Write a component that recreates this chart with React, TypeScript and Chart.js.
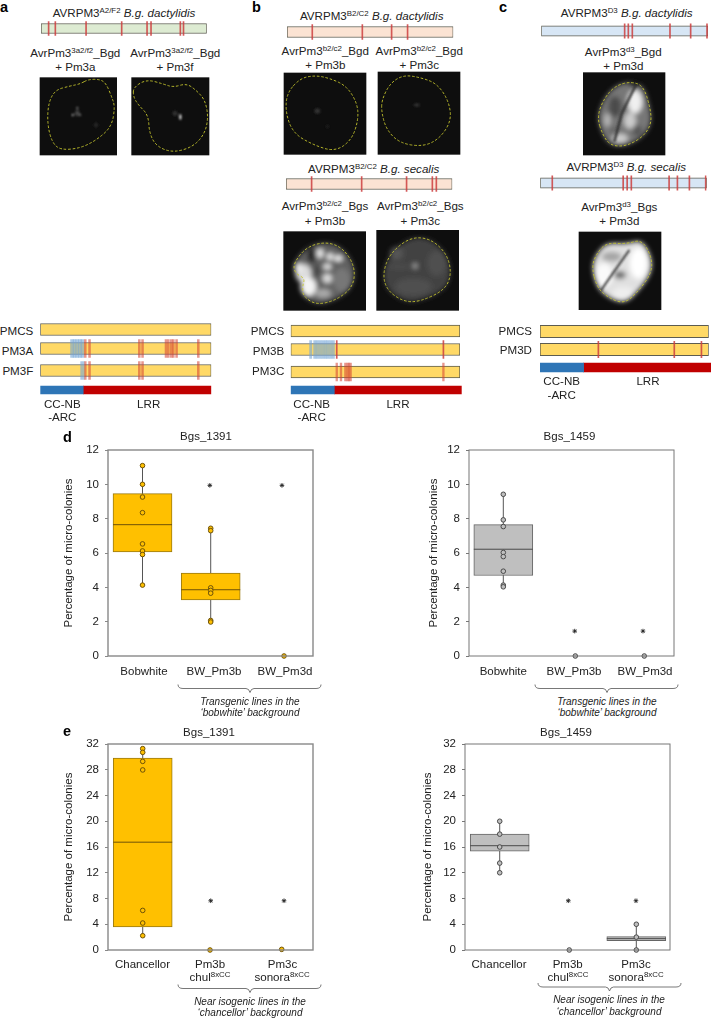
import React, { useEffect, useRef } from "react";
import { Chart, registerables } from "chart.js";

Chart.register(...registerables);

const FONT = "'Liberation Sans', Arial, sans-serif";

// ---------- box plot data ----------
const yTitle = "Percentage of micro-colonies";

const dLabels = ["Bobwhite", "BW_Pm3b", "BW_Pm3d"];
const eLabels = ["Chancellor", "Pm3b", "Pm3c"];

const d1391Points = [
  [11.09, 10.0, 9.26, 8.35, 6.53, 6.12, 5.91, 4.13],
  [7.44, 7.3, 3.97, 3.82, 3.66, 2.07, 1.98],
  [0],
];
const d1391Boxes = [[6.07, 7.65, 9.46], [3.26, 3.86, 4.83], null];
const d1391Stars = [9.94, 9.94];

const d1459Points = [
  [9.42, 7.93, 7.54, 6.03, 5.79, 4.94, 4.13, 4.03],
  [0],
  [0],
];
const d1459Boxes = [[4.69, 6.22, 7.65], null, null];
const d1459Stars = [1.45, 1.45];

const e1391Points = [
  [31.28, 30.7, 29.3, 27.97, 6.15, 4.19, 2.22],
  [0],
  [0.1],
];
const e1391Boxes = [[3.57, 16.75, 29.8], null, null];
const e1391Stars = [7.65, 7.65];

const e1459Points = [
  [20.0, 18.0, 16.0, 13.5, 12.0],
  [0],
  [4.0, 2.0, 0],
];
const e1459Boxes = [[15.36, 16.2, 18.0], null, [1.45, 1.76, 2.07]];
const e1459Stars = [7.65, 7.65];

// ---------- gene track data (position along the protein, %) ----------
const aTopMarks = [4.6, 8.65, 27.2, 48.7, 64, 66.4, 84.1, 86];
const bTop1Marks = [15.2, 45.3, 62.9, 72.5];
const bTop2Marks = [15.4, 45.5, 72.5, 88, 90.4];
const cTop1Marks = [50, 52.2, 54.6, 77.2, 89.6, 99.4];
const cTop2Marks = [7.2, 49.8, 52.2, 54.7, 77.4, 82.4, 89.6, 99.4];

const pm3aBlue = [18.5, 20, 21.6, 23.2, 24.6];
const pm3aRed = [26.3, 28.8, 57.9, 59.8, 73.5, 74.9, 76.6, 77.8, 79.7, 92.4];
const pm3fBlue = [24.6];
const pm3fRed = [26.3, 28.8, 57.9, 59.8, 92.4];
const pm3bBlue = [11.8, 14.2, 15.7, 17.3, 18.9, 20.5, 22, 23.6, 25.2];
const pm3bRed = [27.2, 90.2];
const pm3cRed = [27.2, 29.7, 32.3, 33.5, 34.4, 35.4, 90.2];
const pm3dRed = [34.6, 79.6, 95.7];

type Seg = { from: number; to: number; color: string; border?: string };
type MarkGroup = { at: number[]; color: string; w: number };

const RED_THIN = "rgba(205,62,62,0.85)";
const RED_SOFT = "rgba(214,64,48,0.55)";
const BLUE_SOFT = "rgba(115,165,215,0.6)";

function Track({ x, y, w, h, segs, marks = [], over = 2 }: {
  x: number; y: number; w: number; h: number; segs: Seg[]; marks?: MarkGroup[]; over?: number;
}) {
  const ref = useRef<HTMLCanvasElement>(null);
  const left = Math.floor(x) - 2;
  const top = Math.floor(y) - over - 1;
  const cw = Math.ceil(x + w) + 2 - left;
  const ch = Math.ceil(y + h) + over + 1 - top;
  useEffect(() => {
    const datasets: any[] = [];
    segs.forEach((s) =>
      datasets.push({
        data: [[s.from, s.to]], backgroundColor: s.color,
        borderColor: s.border || s.color, borderWidth: s.border ? 1 : 0,
        borderSkipped: false, barThickness: h, grouped: false, order: 10,
      })
    );
    marks.forEach((g) =>
      g.at.forEach((v) =>
        datasets.push({
          data: [[v - g.w / 2, v + g.w / 2]], backgroundColor: g.color, borderWidth: 0,
          barThickness: h + 2 * over, grouped: false, order: 1,
        })
      )
    );
    const chart = new Chart(ref.current!, {
      type: "bar",
      data: { labels: ["gene"], datasets },
      options: {
        indexAxis: "y", animation: false, responsive: false,
        layout: { padding: { left: x - left, right: left + cw - x - w, top: 0, bottom: 0 } },
        plugins: { legend: { display: false }, tooltip: { enabled: false } },
        scales: {
          x: { type: "linear", min: 0, max: 100, display: false },
          y: { type: "category", display: false },
        },
      },
    } as any);
    return () => chart.destroy();
  }, []);
  return <canvas ref={ref} width={cw} height={ch} style={{ position: "absolute", left, top, width: cw, height: ch }} />;
}

const frame = {
  id: "frame",
  afterDatasetsDraw(chart: any, _a: any, o: any) {
    const { left, right, top, bottom } = chart.chartArea;
    const c = chart.ctx;
    c.save();
    c.strokeStyle = o.color;
    c.lineWidth = o.width;
    c.strokeRect(left, top, right - left, bottom - top);
    c.restore();
  },
};

function BoxChart({ left, top, width, height, plotLeft, plotRight, plotBottom, title, titlePad, yMax, yStep,
  boxes, points, stars, boxX, pointX, starX, labelX, labels, color, edge, dotEdge, frameColor, frameWidth, labelPad }: any) {
  const ref = useRef<HTMLCanvasElement>(null);
  useEffect(() => {
    const plotW = plotRight - plotLeft;
    const half = (29.5 * 3) / plotW;
    const datasets: any[] = [];
    points.forEach((vals: number[], i: number) => {
      if (vals.length > 1) {
        datasets.push({
          type: "scatter", showLine: true, pointRadius: 0, borderColor: "#555", borderWidth: 1, order: 4, clip: false,
          data: [{ x: pointX[i], y: Math.min(...vals) }, { x: pointX[i], y: Math.max(...vals) }],
        });
      }
      const b = boxes[i];
      if (b) {
        datasets.push({
          type: "bar", data: [{ x: boxX[i], y: [b[0], b[2]] }], backgroundColor: color, borderColor: edge,
          borderWidth: 1, borderSkipped: false, barThickness: 59, grouped: false, order: 3,
        });
        datasets.push({
          type: "scatter", showLine: true, pointRadius: 0, borderColor: dotEdge, borderWidth: 1, order: 2,
          data: [{ x: boxX[i] - half, y: b[1] }, { x: boxX[i] + half, y: b[1] }],
        });
      }
      datasets.push({
        type: "scatter", order: 1, clip: false,
        data: vals.map((v) => ({ x: pointX[i], y: v })),
        pointRadius: 2.3, pointBackgroundColor: color, pointBorderColor: dotEdge, pointBorderWidth: 1,
      });
    });
    datasets.push({
      type: "scatter", order: 0, clip: false,
      data: stars.map((v: number, i: number) => ({ x: starX[i], y: v })),
      pointStyle: "star", pointRadius: 2.3, pointBorderColor: "#222", pointBorderWidth: 0.9, pointBackgroundColor: "#222",
    });
    const chart = new Chart(ref.current!, {
      type: "bar",
      data: { datasets },
      plugins: [frame],
      options: {
        animation: false, responsive: false,
        layout: { padding: 0 },
        plugins: {
          legend: { display: false }, tooltip: { enabled: false },
          frame: { color: frameColor, width: frameWidth },
          title: {
            display: true, text: title, color: "#222",
            font: { family: FONT, size: 11.5, weight: "normal", lineHeight: 14 / 11.5 },
            padding: { top: 0, bottom: titlePad },
          },
        },
        scales: {
          x: {
            type: "linear", min: 0, max: 3, offset: false,
            grid: { display: false, offset: false, drawTicks: false }, border: { display: false },
            afterFit: (s: any) => { s.height = height - (plotBottom - top); },
            afterBuildTicks: (s: any) => { s.ticks = labelX.map((v: number) => ({ value: v })); },
            ticks: {
              autoSkip: false, maxRotation: 0, padding: labelPad, color: "#222",
              font: { family: FONT, size: 11.5 },
              callback: (_v: number, i: number) => labels[i],
            },
          },
          y: {
            type: "linear", min: 0, max: yMax,
            afterFit: (s: any) => { s.width = plotLeft - left; },
            grid: { drawOnChartArea: false, tickLength: 3, tickColor: frameColor, lineWidth: 1 },
            border: { display: false },
            ticks: { stepSize: yStep, padding: 6, color: "#222", font: { family: FONT, size: 11.5 } },
            title: {
              display: true, text: yTitle, color: "#222", padding: 0,
              font: { family: FONT, size: 11.5, lineHeight: 14 / 11.5 },
            },
          },
          // empty margin on the right, so that the title centres over the whole canvas
          margin: {
            type: "linear", position: "right", min: 0, max: 1,
            grid: { display: false }, border: { display: false }, ticks: { display: false },
            afterFit: (s: any) => { s.width = left + width - plotRight; },
          },
        },
      },
    } as any);
    return () => chart.destroy();
  }, []);
  return <canvas ref={ref} width={width} height={height} style={{ position: "absolute", left, top, width, height }} />;
}

// ---------- overlay text ----------
function T({ x, y, children, size = 11.6, bold, italic, align = "c" }: any) {
  const tx = align === "r" ? "-100%" : "-50%";
  return (
    <span style={{
      position: "absolute", left: x, top: y, transform: `translate(${tx},-50%)`, whiteSpace: "nowrap",
      fontFamily: FONT, fontSize: size, fontWeight: bold ? 700 : 400, fontStyle: italic ? "italic" : "normal",
      color: bold ? "#000" : "#222", lineHeight: 1,
    }}>{children}</span>
  );
}
const S = ({ children }: any) => (
  <sup style={{ fontSize: "0.68em", lineHeight: 0, verticalAlign: "0.48em" }}>{children}</sup>
);
const I = ({ children }: any) => <i>{children}</i>;

// ---------- micrographs, in zoomed-crop coordinates (3 units = 1 px) ----------
function smooth(p: number[][], ox: number, oy: number) {
  const q = p.map(([a, b]) => [ox + a / 3, oy + b / 3]);
  const mid = (a: number[], b: number[]) => [(a[0] + b[0]) / 2, (a[1] + b[1]) / 2];
  let d = "";
  q.forEach((pt, i) => {
    const m0 = mid(q[(i + q.length - 1) % q.length], pt);
    const m1 = mid(pt, q[(i + 1) % q.length]);
    if (i === 0) d += `M${m0[0]} ${m0[1]}`;
    d += `Q${pt[0]} ${pt[1]} ${m1[0]} ${m1[1]}`;
  });
  return d + "Z";
}

type Micro = {
  o: number[]; box: number[]; outline: number[][]; base?: string;
  blobs: (number | string)[][]; streak?: number[][]; streakW?: number;
};
const micros: Micro[] = [
  { o: [0, 0], box: [119, 232, 351, 466],
    outline: [[265,238],[300,238],[318,250],[335,290],[345,320],[335,380],[290,420],[240,445],[180,450],[155,425],[142,370],[145,310],[165,270],[210,258],[240,252]],
    blobs: [[232,340,7,9,"#444"],[218,345,2,4,"#eee"],[241,345,2,2,"#ccc"],[232,324,3,2,"#ccc"],[288,375,7,7,"#262626"]] },
  { o: [0, 0], box: [394, 232, 628, 466],
    outline: [[400,262],[440,238],[490,252],[520,262],[560,250],[590,272],[615,300],[625,350],[615,400],[580,440],[520,458],[470,440],[448,400],[445,345],[415,315],[400,290]],
    blobs: [[525,340,7,8,"#333"],[541,351,3,9,"#fff"]] },
  { o: [240, 0], box: [131, 218, 379, 464],
    outline: [[180,235],[225,226],[270,235],[320,258],[352,310],[355,360],[335,420],[285,455],[220,435],[160,400],[137,340],[140,280]],
    blobs: [[232,333,9,8,"#303030"],[262,380,6,5,"#1c1c1c"]] },
  { o: [240, 0], box: [413, 215, 661, 464],
    outline: [[425,300],[450,250],[490,225],[540,232],[590,250],[625,300],[635,360],[600,415],[550,440],[480,430],[440,390],[425,340]],
    blobs: [[530,315,9,5,"#303030"]] },
  { o: [240, 0], box: [130, 694, 378, 932], base: "#606060",
    outline: [[160,790],[200,740],[260,725],[310,745],[345,800],[340,860],[290,900],[230,915],[190,890],[187,860],[195,835],[165,820]],
    blobs: [[190,820,24,28,"#ddd"],[205,860,24,28,"#f4f4f4"],[175,805,10,16,"#eee"],[240,760,10,14,"#eee"],[270,770,10,10,"#eee"],[295,775,12,8,"#fff"],[262,800,12,8,"#eee"],[262,835,14,14,"#ddd"],[250,880,24,13,"#aaa"],[305,840,26,36,"#777"],[215,765,13,24,"#222"],[230,812,10,18,"#444"]] },
  { o: [240, 0], box: [409, 690, 657, 932], base: "#434343",
    outline: [[428,820],[450,760],[510,712],[570,715],[620,760],[635,820],[615,870],[540,905],[490,905],[440,870]],
    blobs: [[525,798,6,7,"#c4c4c4"],[480,800,45,4,"#525252"],[520,860,55,26,"#505050"],[590,790,28,38,"#505050"],[470,760,20,20,"#555"]] },
  { o: [480, 0], box: [309, 217, 556, 466], base: "#777",
    outline: [[350,350],[375,290],[410,255],[455,245],[490,258],[510,320],[515,370],[490,410],[440,438],[395,438],[370,410]],
    blobs: [[465,305,22,35,"#f0f0f0"],[450,362,18,25,"#ccc"],[405,320,20,32,"#4c4c4c"],[382,360,9,20,"#bbb"],[420,415,24,14,"#ccc"],[472,392,15,17,"#555"],[402,392,14,14,"#666"],[465,255,18,8,"#222"]],
    streak: [[470,250],[425,340],[403,425]], streakW: 2.2 },
  { o: [480, 0], box: [296, 695, 544, 930], base: "#e0e0e0",
    outline: [[335,800],[350,760],[380,728],[440,732],[485,718],[515,770],[515,820],[470,880],[430,912],[380,890],[350,860]],
    blobs: [[395,770,30,15,"#a4a4a4"],[420,825,18,12,"#666"],[475,790,26,46,"#fff"],[372,825,26,36,"#fafafa"],[430,880,32,20,"#eee"]],
    streak: [[448,750],[395,825],[360,875]], streakW: 1.8 },
];

function Micrographs() {
  return (
    <svg width={711} height={1019} style={{ position: "absolute", left: 0, top: 0 }}>
      <defs>
        <filter id="soft" x="-30%" y="-30%" width="160%" height="160%"><feGaussianBlur stdDeviation="1.1" /></filter>
        <filter id="softer" x="-30%" y="-30%" width="160%" height="160%"><feGaussianBlur stdDeviation="2.4" /></filter>
      </defs>
      {micros.map((m, i) => {
        const [ox, oy] = m.o;
        const [a, b, c, d] = m.box;
        const path = smooth(m.outline, ox, oy);
        return (
          <g key={i}>
            <rect x={ox + a / 3} y={oy + b / 3} width={(c - a) / 3} height={(d - b) / 3} fill="#0e0e0e" />
            <g filter={m.base ? "url(#softer)" : "url(#soft)"}>
              {m.base && <path d={path} fill={m.base} />}
              {m.blobs.map((e, j) => (
                <ellipse key={j} cx={ox + (e[0] as number) / 3} cy={oy + (e[1] as number) / 3}
                  rx={(e[2] as number) / 3} ry={(e[3] as number) / 3} fill={e[4] as string} />
              ))}
            </g>
            {m.streak && (
              <polyline fill="none" stroke="#2a2a2a" strokeWidth={m.streakW} filter="url(#soft)"
                points={m.streak.map(([p, q]) => `${ox + p / 3},${oy + q / 3}`).join(" ")} />
            )}
            <path d={path} fill="none" stroke="#c6c62c" strokeWidth={0.9} strokeDasharray="2.6 1.8" />
          </g>
        );
      })}
      {[[178, 321, 250, 684.5], [535, 678, 607, 684.5], [178, 321, 250, 984.5], [538, 681, 609.5, 983]].map(([l, r, c, y], i) => (
        <path key={i} fill="none" stroke="#555" strokeWidth={0.8}
          d={`M${l} ${y}Q${l} ${y + 4} ${l + 5} ${y + 4}L${c - 4} ${y + 4}Q${c - 1} ${y + 4} ${c} ${y + 8}Q${c + 1} ${y + 4} ${c + 4} ${y + 4}L${r - 5} ${y + 4}Q${r} ${y + 4} ${r} ${y}`} />
      ))}
    </svg>
  );
}

const green = "#DDEBD2", peach = "#FBE3D3", blue = "#D7E6F5", gold = "#FFD966", line = "#5c5c50";
const bar = (color: string): Seg[] => [{ from: 0, to: 100, color, border: line }];
const thin = (at: number[]): MarkGroup[] => [{ at, color: RED_THIN, w: 0.6 }];
const domains = (split: number): Seg[] => [
  { from: 0, to: split, color: "#2E75B6" },
  { from: split, to: 100, color: "#C00000" },
];

const GOLD = "#FFC000", GOLD_EDGE = "#9A7A12", GOLD_DOT = "#6e5208";
const GRAY = "#BFBFBF", GRAY_EDGE = "#666", GRAY_DOT = "#4a4a4a";
const letter = { position: "absolute", fontFamily: FONT, fontWeight: 700, fontSize: 14.5, lineHeight: 1, color: "#000" } as const;

export default function App() {
  return (
    <div style={{ position: "absolute", left: 0, top: 0, width: 711, height: 1019, overflow: "hidden", background: "#fff" }}>
      <Micrographs />

      {/* panel a */}
      <span style={{ ...letter, left: 0, top: 0 }}>a</span>
      <T x={124} y={12.7}>AVRPM3<S>A2/F2</S> <I>B.g. dactylidis</I></T>
      <Track x={41} y={23.3} w={165.7} h={10} segs={bar(green)} marks={thin(aTopMarks)} />
      <T x={75.3} y={52.7}>AvrPm3<S>3a2/f2</S>_Bgd</T>
      <T x={75.3} y={67.3}>+ Pm3a</T>
      <T x={175.3} y={52.7}>AvrPm3<S>3a2/f2</S>_Bgd</T>
      <T x={175} y={67.3}>+ Pm3f</T>
      <T x={33.3} y={330.7} align="r">PMCS</T>
      <T x={33.3} y={350.7} align="r">PM3A</T>
      <T x={33.3} y={371} align="r">PM3F</T>
      <Track x={40.3} y={323.7} w={171} h={12} segs={bar(gold)} />
      <Track x={40.3} y={342.3} w={171} h={12} segs={bar(gold)} over={3}
        marks={[{ at: pm3aBlue, color: BLUE_SOFT, w: 1.6 }, { at: pm3aRed, color: RED_SOFT, w: 1.1 }]} />
      <Track x={40.3} y={364.3} w={171} h={12} segs={bar(gold)} over={3}
        marks={[{ at: pm3fBlue, color: BLUE_SOFT, w: 2 }, { at: pm3fRed, color: RED_SOFT, w: 1.1 }]} />
      <Track x={40.3} y={386} w={171} h={8} segs={domains(25.1)} over={0} />
      <T x={62.3} y={404}>CC-NB</T>
      <T x={62.3} y={417.3}>-ARC</T>
      <T x={148.7} y={404}>LRR</T>

      {/* panel b */}
      <span style={{ ...letter, left: 252, top: 0 }}>b</span>
      <T x={371.7} y={16}>AVRPM3<S>B2/C2</S> <I>B.g. dactylidis</I></T>
      <Track x={287} y={26.7} w={166.3} h={11} segs={bar(peach)} marks={thin(bTop1Marks)} />
      <T x={325.3} y={50.7}>AvrPm3<S>b2/c2</S>_Bgd</T>
      <T x={325.3} y={65}>+ Pm3b</T>
      <T x={419.3} y={50.7}>AvrPm3<S>b2/c2</S>_Bgd</T>
      <T x={419.3} y={65}>+ Pm3c</T>
      <T x={373.7} y={168.7}>AVRPM3<S>B2/C2</S> <I>B.g. secalis</I></T>
      <Track x={286} y={178.7} w={166.3} h={11} segs={bar(peach)} marks={thin(bTop2Marks)} />
      <T x={325} y={206}>AvrPm3<S>b2/c2</S>_Bgs</T>
      <T x={325} y={220.7}>+ Pm3b</T>
      <T x={420.3} y={206}>AvrPm3<S>b2/c2</S>_Bgs</T>
      <T x={420.3} y={220.7}>+ Pm3c</T>
      <T x={284.3} y={331.3} align="r">PMCS</T>
      <T x={284.3} y={351} align="r">PM3B</T>
      <T x={284.3} y={371.3} align="r">PM3C</T>
      <Track x={290.7} y={325} w={169.3} h={12} segs={bar(gold)} />
      <Track x={290.7} y={343.7} w={169.3} h={12} segs={bar(gold)} over={3}
        marks={[{ at: pm3bBlue, color: BLUE_SOFT, w: 1.3 }, { at: pm3bRed, color: RED_THIN, w: 0.6 }]} />
      <Track x={290.7} y={366} w={169.3} h={12} segs={bar(gold)} over={3}
        marks={[{ at: pm3cRed, color: RED_SOFT, w: 1 }]} />
      <Track x={290.7} y={386} w={171} h={8} segs={domains(25.5)} over={0} />
      <T x={311.7} y={404}>CC-NB</T>
      <T x={311.7} y={417.3}>-ARC</T>
      <T x={398} y={404}>LRR</T>

      {/* panel c */}
      <span style={{ ...letter, left: 499, top: 0 }}>c</span>
      <T x={626.7} y={12.7}>AVRPM3<S>D3</S> <I>B.g. dactylidis</I></T>
      <Track x={541.3} y={25.7} w={166.7} h={10.5} segs={bar(blue)} marks={thin(cTop1Marks)} />
      <T x={623.3} y={51.7}>AvrPm3<S>d3</S>_Bgd</T>
      <T x={623.3} y={65.7}>+ Pm3d</T>
      <T x={626.3} y={166.7}>AVRPM3<S>D3</S> <I>B.g. secalis</I></T>
      <Track x={540.3} y={177.7} w={166.4} h={10.5} segs={bar(blue)} marks={thin(cTop2Marks)} />
      <T x={619.3} y={206.7}>AvrPm3<S>d3</S>_Bgs</T>
      <T x={619.3} y={221}>+ Pm3d</T>
      <T x={532} y={331.3} align="r">PMCS</T>
      <T x={532} y={350} align="r">PM3D</T>
      <Track x={540} y={325} w={168.7} h={12.3} segs={bar(gold)} />
      <Track x={540} y={343.7} w={168.7} h={12.3} segs={bar(gold)} marks={thin(pm3dRed)} />
      <Track x={540} y={363.3} w={171} h={8.7} segs={domains(25.5)} over={0} />
      <T x={561.7} y={381}>CC-NB</T>
      <T x={561.7} y={395}>-ARC</T>
      <T x={648} y={381}>LRR</T>

      {/* panel d */}
      <span style={{ ...letter, left: 63, top: 430 }}>d</span>
      <BoxChart left={62} top={430} width={288} height={256} plotLeft={108} plotRight={313} plotBottom={656}
        title="Bgs_1391" titlePad={6} yMax={12} yStep={2} boxes={d1391Boxes} points={d1391Points} stars={d1391Stars}
        boxX={[0.505, 1.503, 2.576]} pointX={[0.505, 1.503, 2.576]} starX={[1.49, 2.546]} labelX={[0.527, 1.551, 2.59]} labels={dLabels}
        color={GOLD} edge={GOLD_EDGE} dotEdge={GOLD_DOT} frameColor="#888" frameWidth={1.4} labelPad={9} />
      <BoxChart left={427} top={430} width={285} height={256} plotLeft={469} plotRight={674} plotBottom={656}
        title="Bgs_1459" titlePad={6} yMax={12} yStep={2} boxes={d1459Boxes} points={d1459Points} stars={d1459Stars}
        boxX={[0.502, 1.556, 2.565]} pointX={[0.502, 1.556, 2.565]} starX={[1.547, 2.546]} labelX={[0.502, 1.537, 2.576]} labels={dLabels}
        color={GRAY} edge={GRAY_EDGE} dotEdge={GRAY_DOT} frameColor="#777" frameWidth={1} labelPad={9} />
      <T x={250} y={701.7} size={10} italic>Transgenic lines in the</T>
      <T x={250} y={713.3} size={10} italic>‘bobwhite’ background</T>
      <T x={607} y={701.7} size={10} italic>Transgenic lines in the</T>
      <T x={607} y={713.3} size={10} italic>‘bobwhite’ background</T>

      {/* panel e */}
      <span style={{ ...letter, left: 63, top: 724 }}>e</span>
      <BoxChart left={62} top={726} width={294} height={256} plotLeft={108} plotRight={313} plotBottom={950}
        title="Bgs_1391" titlePad={4} yMax={32} yStep={4} boxes={e1391Boxes} points={e1391Points} stars={e1391Stars}
        boxX={[0.508, 1.493, 2.542]} pointX={[0.508, 1.493, 2.542]} starX={[1.503, 2.576]} labelX={[0.505, 1.493, 2.554]} labels={eLabels}
        color={GOLD} edge={GOLD_EDGE} dotEdge={GOLD_DOT} frameColor="#888" frameWidth={1.4} labelPad={8} />
      <BoxChart left={421} top={726} width={290} height={256} plotLeft={465} plotRight={670} plotBottom={950}
        title="Bgs_1459" titlePad={4} yMax={32} yStep={4} boxes={e1459Boxes} points={e1459Points} stars={e1459Stars}
        boxX={[0.508, 1.526, 2.507]} pointX={[0.508, 1.526, 2.507]} starX={[1.512, 2.502]} labelX={[0.498, 1.503, 2.502]} labels={eLabels}
        color={GRAY} edge={GRAY_EDGE} dotEdge={GRAY_DOT} frameColor="#777" frameWidth={1} labelPad={8} />
      <T x={210} y={977}>chul<S>8xCC</S></T>
      <T x={282} y={977}>sonora<S>8xCC</S></T>
      <T x={568} y={977}>chul<S>8xCC</S></T>
      <T x={636} y={977}>sonora<S>8xCC</S></T>
      <T x={250} y={1001.7} size={10} italic>Near isogenic lines in the</T>
      <T x={250} y={1013.3} size={10} italic>‘chancellor’ background</T>
      <T x={609} y={1000} size={10} italic>Near isogenic lines in the</T>
      <T x={609} y={1012.3} size={10} italic>‘chancellor’ background</T>
    </div>
  );
}
